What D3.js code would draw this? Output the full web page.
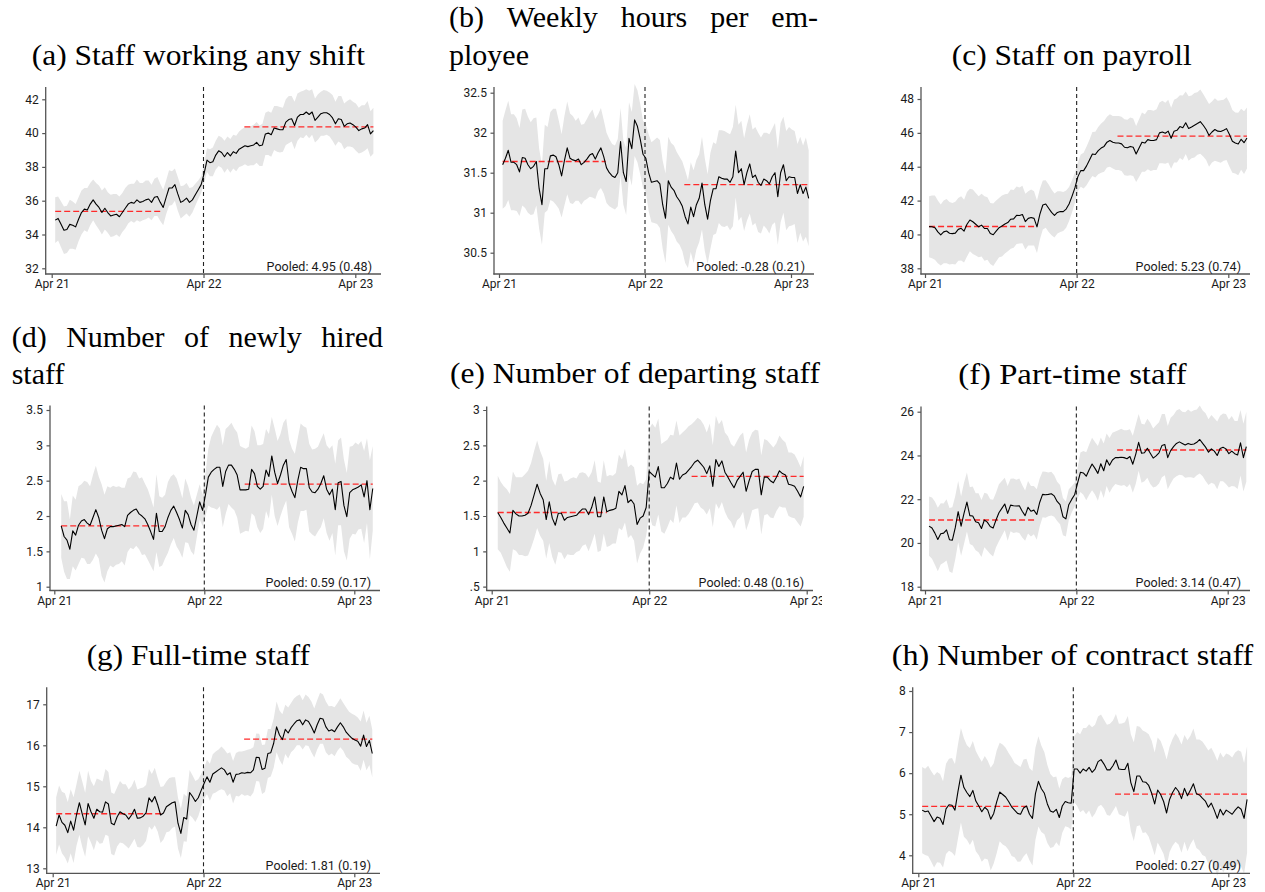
<!DOCTYPE html>
<html><head><meta charset="utf-8">
<script src="https://cdn.jsdelivr.net/npm/d3@7"></script>
<style>
body{margin:0;background:#fff;}
svg{display:block;background:#fff;}
.title{font-family:"Liberation Serif","Times New Roman",serif;font-size:30px;fill:#000;}
.lbl{font-family:Roboto,"Liberation Sans",sans-serif;font-size:12px;fill:#1a1a1a;}
</style></head><body>
<svg id="chart" width="1265" height="892"></svg>
<script>
// ---------------- DATA ----------------
const xTickWeeks = [0, 52, 104];
const xTickLabels = ["Apr 21", "Apr 22", "Apr 23"];
const breakWeek = 52;
const preEndWeek = 38;
const postStartWeek = 66;

const titles = [
  ["(a) Staff working any shift"],
  ["(b) Weekly hours per em-", "ployee"],
  ["(c) Staff on payroll"],
  ["(d) Number of newly hired", "staff"],
  ["(e) Number of departing staff"],
  ["(f) Part-time staff"],
  ["(g) Full-time staff"],
  ["(h) Number of contract staff"]
];
const pooledLabels = ["Pooled: 4.95 (0.48)", "Pooled: -0.28 (0.21)", "Pooled: 5.23 (0.74)", "Pooled: 0.59 (0.17)",
  "Pooled: 0.48 (0.16)", "Pooled: 3.14 (0.47)", "Pooled: 1.81 (0.19)", "Pooled: 0.27 (0.49)"];
const preMeans = [35.37, 31.64, 40.47, 1.86, 1.55, 21.05, 14.33, 5.19];
const postMeans = [40.37, 31.35, 45.81, 2.45, 2.06, 24.25, 16.15, 5.49];
const startWeeks = [1.2, 1.3, 1.4, 2.4, 2.0, 1.4, 1.2, 1.3];

const yTicksA = [32, 34, 36, 38, 40, 42];
const yTicksB = [30.5, 31, 31.5, 32, 32.5];
const yTicksC = [38, 40, 42, 44, 46, 48];
const yTicksD = [1, 1.5, 2, 2.5, 3, 3.5];
const yTicksE = [0.5, 1, 1.5, 2, 2.5, 3];
const yTicksF = [18, 20, 22, 24, 26];
const yTicksG = [13, 14, 15, 16, 17];
const yTicksH = [4, 5, 6, 7, 8];
const yLabelsA = ["32", "34", "36", "38", "40", "42"];
const yLabelsB = ["30.5", "31", "31.5", "32", "32.5"];
const yLabelsC = ["38", "40", "42", "44", "46", "48"];
const yLabelsD = ["1", "1.5", "2", "2.5", "3", "3.5"];
const yLabelsE = [".5", "1", "1.5", "2", "2.5", "3"];
const yLabelsF = ["18", "20", "22", "24", "26"];
const yLabelsG = ["13", "14", "15", "16", "17"];
const yLabelsH = ["4", "5", "6", "7", "8"];

const seriesA = [34.85,34.95,34.6,34.25,34.3,34.6,34.55,34.45,34.9,35.3,
35.5,35.45,35.8,36.05,35.8,35.6,35.3,35.55,35.3,35.1,
35.15,35.2,35.05,35.3,35.55,35.8,35.9,35.85,36.05,35.9,
35.95,36.05,36.1,35.9,36.2,36.25,35.9,35.6,36.2,36.75,
36.75,36.95,36.4,35.9,36.0,36.15,35.9,36.05,36.35,36.65,
36.95,37.6,38.4,38.25,38.3,38.7,38.95,38.85,38.6,38.85,
38.65,38.9,38.8,39.05,39.15,39.25,39.2,39.25,39.3,39.45,
39.25,39.3,39.95,40.0,39.9,40.3,40.25,40.2,40.2,40.65,
40.8,40.85,40.45,40.95,41.1,41.1,41.25,41.1,41.25,40.75,
40.95,41.15,41.2,41.2,41.1,40.9,40.55,40.85,40.8,40.4,
40.55,40.6,40.5,40.35,40.15,40.25,40.3,40.5,39.95,40.15];
const ciA = [1.35,1.3,1.35,1.4,1.4,1.45,1.4,1.35,1.3,1.3,
1.25,1.3,1.25,1.2,1.25,1.3,1.3,1.25,1.2,1.25,
1.25,1.2,1.2,1.15,1.2,1.15,1.1,1.15,1.2,1.15,
1.1,1.15,1.1,1.05,1.1,1.15,1.1,1.05,1.0,1.05,
1.0,0.95,1.0,0.95,0.9,0.9,0.85,0.75,0.65,0.55,
0.5,0.55,0.7,0.8,0.85,0.85,0.9,0.9,0.95,0.95,
1.0,1.0,1.05,1.05,1.1,1.1,1.15,1.15,1.2,1.2,
1.2,1.25,1.25,1.3,1.3,1.3,1.35,1.35,1.3,1.35,
1.4,1.35,1.4,1.4,1.35,1.4,1.35,1.4,1.35,1.3,
1.35,1.3,1.35,1.3,1.3,1.35,1.3,1.35,1.4,1.35,
1.35,1.4,1.35,1.4,1.35,1.4,1.35,1.4,1.35,1.35];

const seriesB = [31.6,31.68,31.78,31.63,31.63,31.6,31.51,31.69,31.68,31.6,
31.55,31.58,31.64,31.3,31.1,31.55,31.55,31.71,31.72,31.7,
31.6,31.46,31.65,31.81,31.68,31.66,31.65,31.67,31.6,31.63,
31.67,31.72,31.74,31.67,31.75,31.81,31.7,31.56,31.5,31.46,
31.44,31.5,31.89,31.5,31.39,31.93,31.8,32.16,32.08,31.92,
31.73,31.68,31.5,31.38,31.39,31.4,31.36,31.1,30.93,31.4,
31.32,31.28,31.2,31.15,31.08,30.95,30.86,31.07,30.95,31.1,
31.18,31.37,31.1,30.92,31.15,31.3,31.3,31.45,31.43,31.42,
31.42,31.38,31.45,31.77,31.5,31.55,31.35,31.5,31.61,31.44,
31.47,31.38,31.34,31.42,31.4,31.36,31.45,31.5,31.2,31.5,
31.6,31.4,31.45,31.44,31.44,31.24,31.35,31.24,31.32,31.18];
const ciB = [0.55,0.6,0.62,0.6,0.6,0.58,0.55,0.6,0.62,0.6,
0.58,0.6,0.55,0.5,0.5,0.55,0.52,0.55,0.58,0.6,
0.55,0.52,0.56,0.58,0.56,0.55,0.5,0.52,0.5,0.48,
0.5,0.52,0.55,0.5,0.48,0.5,0.46,0.44,0.42,0.4,
0.4,0.42,0.42,0.4,0.42,0.45,0.46,0.45,0.45,0.44,
0.42,0.42,0.48,0.5,0.52,0.54,0.55,0.55,0.56,0.55,
0.55,0.56,0.56,0.55,0.56,0.58,0.55,0.56,0.58,0.56,
0.55,0.58,0.58,0.56,0.6,0.58,0.56,0.58,0.6,0.6,
0.58,0.6,0.62,0.58,0.6,0.6,0.58,0.6,0.62,0.6,
0.6,0.62,0.6,0.58,0.6,0.62,0.6,0.62,0.6,0.62,
0.6,0.62,0.62,0.6,0.58,0.62,0.6,0.6,0.62,0.6];

const seriesC = [40.46,40.45,40.4,40.15,39.97,40.15,40.2,40.07,40.05,40.08,
40.3,40.36,40.2,40.6,40.85,40.75,40.6,40.45,40.55,40.35,
40.35,40.05,39.98,40.2,40.4,40.5,40.62,40.7,40.9,40.92,
41.13,41.12,41.18,40.76,40.95,41.0,40.95,40.45,41.2,41.74,
41.8,41.55,41.3,41.12,41.3,41.35,41.35,41.5,41.8,42.25,
42.75,43.4,43.77,43.77,44.05,44.4,44.75,44.72,44.95,45.1,
45.2,45.45,45.55,45.45,45.4,45.4,45.35,45.15,45.12,45.2,
45.15,44.75,45.1,45.45,45.4,45.6,45.55,45.55,45.6,46.0,
46.05,45.98,46.1,45.68,46.1,46.15,46.37,46.3,46.6,46.26,
46.35,46.45,46.55,46.66,46.45,46.2,45.85,46.05,46.2,46.1,
46.08,46.15,46.25,45.9,45.5,45.4,45.34,45.62,45.42,45.7];
const ciC = [1.8,1.85,1.9,1.85,1.8,1.85,1.9,1.85,1.8,1.85,
1.85,1.9,1.85,1.9,1.85,1.9,1.85,1.8,1.85,1.9,
1.85,1.8,1.85,1.8,1.75,1.8,1.75,1.7,1.75,1.7,
1.7,1.65,1.7,1.65,1.6,1.65,1.6,1.55,1.5,1.45,
1.4,1.4,1.35,1.3,1.25,1.2,1.15,1.1,1.0,0.95,
0.9,0.85,0.95,1.05,1.15,1.2,1.3,1.35,1.4,1.45,
1.5,1.5,1.55,1.55,1.6,1.6,1.6,1.65,1.65,1.7,
1.7,1.65,1.7,1.75,1.7,1.75,1.8,1.75,1.8,1.8,
1.85,1.8,1.85,1.8,1.85,1.9,1.85,1.9,1.85,1.9,
1.85,1.9,1.85,1.9,1.85,1.8,1.85,1.8,1.85,1.8,
1.85,1.8,1.85,1.9,1.85,1.8,1.85,1.8,1.85,1.8];

const seriesD = [1.86,1.71,1.66,1.53,1.79,1.73,1.87,1.93,1.95,1.9,
1.87,1.98,2.09,1.98,1.8,1.68,1.82,1.85,1.85,1.86,
1.87,1.88,1.85,2.01,2.05,2.08,2.1,2.03,2.0,1.96,
1.88,1.78,1.67,2.04,1.78,1.78,1.85,1.98,2.08,2.14,
2.05,1.95,1.83,2.08,2.02,1.88,1.8,2.0,2.2,2.08,
2.3,2.55,2.62,2.66,2.69,2.69,2.42,2.63,2.72,2.72,
2.66,2.58,2.37,2.37,2.37,2.38,2.66,2.6,2.42,2.38,
2.42,2.65,2.56,2.85,2.62,2.46,2.58,2.72,2.8,2.46,
2.35,2.26,2.5,2.69,2.67,2.67,2.4,2.34,2.33,2.38,
2.46,2.57,2.38,2.3,2.38,2.09,2.47,2.49,2.15,1.99,
2.33,2.37,2.39,2.41,2.44,2.27,2.5,2.09,2.39];
const ciD = [0.45,0.5,0.55,0.42,0.5,0.5,0.55,0.52,0.55,0.58,
0.55,0.6,0.62,0.58,0.65,0.62,0.6,0.55,0.58,0.55,
0.55,0.52,0.55,0.52,0.5,0.55,0.52,0.5,0.55,0.5,
0.5,0.48,0.45,0.55,0.5,0.48,0.45,0.5,0.48,0.45,
0.48,0.45,0.42,0.45,0.4,0.38,0.35,0.3,0.25,0.22,
0.3,0.4,0.5,0.55,0.6,0.55,0.58,0.6,0.55,0.6,
0.58,0.6,0.62,0.6,0.58,0.6,0.62,0.6,0.58,0.62,
0.6,0.58,0.6,0.55,0.62,0.6,0.58,0.6,0.58,0.62,
0.6,0.62,0.6,0.62,0.6,0.58,0.62,0.6,0.62,0.6,
0.62,0.6,0.62,0.65,0.62,0.65,0.6,0.62,0.65,0.62,
0.65,0.62,0.65,0.6,0.62,0.65,0.6,0.7,0.6];

const seriesE = [1.55,1.48,1.4,1.33,1.26,1.58,1.53,1.5,1.5,1.51,
1.54,1.65,1.8,1.95,1.82,1.73,1.45,1.7,1.47,1.37,
1.54,1.54,1.44,1.48,1.49,1.5,1.51,1.56,1.6,1.6,
1.52,1.62,1.77,1.49,1.49,1.77,1.56,1.58,1.59,1.61,
1.85,1.8,1.93,1.69,1.73,1.67,1.38,1.47,1.5,1.62,
2.13,2.09,2.05,2.2,1.9,1.9,1.96,2.05,2.02,2.25,
2.02,2.08,2.1,2.15,2.2,2.26,2.29,2.24,2.19,2.1,
2.21,1.92,2.3,2.2,2.28,2.12,2.05,1.97,1.9,2.0,
2.06,2.12,1.85,2.0,2.13,2.16,2.16,1.8,2.05,2.05,
2.0,1.97,2.05,2.14,2.1,2.08,1.95,1.94,1.92,1.85,
1.77,1.92];
const ciE = [0.52,0.5,0.52,0.55,0.55,0.55,0.52,0.55,0.55,0.58,
0.6,0.6,0.62,0.62,0.6,0.58,0.55,0.58,0.55,0.56,
0.55,0.56,0.55,0.52,0.54,0.55,0.52,0.55,0.52,0.5,
0.52,0.5,0.52,0.5,0.48,0.52,0.5,0.5,0.48,0.5,
0.52,0.5,0.52,0.5,0.5,0.52,0.55,0.5,0.45,0.4,
0.6,0.72,0.7,0.68,0.62,0.65,0.62,0.6,0.62,0.6,
0.62,0.6,0.62,0.62,0.6,0.58,0.6,0.62,0.6,0.58,
0.6,0.58,0.62,0.6,0.58,0.56,0.58,0.55,0.58,0.56,
0.58,0.56,0.55,0.58,0.55,0.56,0.55,0.56,0.54,0.52,
0.52,0.5,0.48,0.5,0.48,0.46,0.45,0.46,0.45,0.44,
0.42,0.43];

const seriesF = [20.77,20.68,20.45,20.16,20.42,20.45,20.6,20.15,20.13,20.7,
21.43,20.77,21.35,21.87,21.25,21.23,20.97,20.92,20.66,21.05,
20.95,20.75,20.68,21.05,21.38,21.58,21.78,21.35,21.73,21.7,
21.69,21.7,21.45,21.25,21.63,21.45,21.5,21.3,21.85,22.22,
22.2,22.22,22.25,22.15,21.9,21.75,21.2,21.1,21.75,21.99,
22.2,22.72,23.23,23.2,23.05,23.35,23.61,23.41,23.18,23.62,
23.3,23.8,23.55,23.79,23.9,23.9,23.92,23.9,23.85,23.95,
23.6,24.05,24.6,24.1,24.12,24.33,24.1,23.88,23.98,24.12,
24.45,24.5,23.9,24.22,24.4,24.55,24.62,24.55,24.48,24.55,
24.5,24.52,24.6,24.73,24.55,24.38,24.15,24.3,24.2,24.0,
24.32,24.37,24.3,24.08,24.2,24.08,24.02,24.58,23.9,24.4];
const ciF = [1.35,1.4,1.45,1.45,1.4,1.35,1.4,1.45,1.5,1.45,
1.4,1.35,1.4,1.35,1.3,1.35,1.3,1.35,1.3,1.25,
1.3,1.25,1.3,1.25,1.3,1.25,1.2,1.25,1.2,1.25,
1.2,1.25,1.2,1.15,1.2,1.15,1.1,1.15,1.1,1.05,
1.05,1.0,1.0,0.95,0.9,0.9,0.85,0.8,0.7,0.6,
0.55,0.7,0.9,1.0,1.1,1.15,1.2,1.2,1.25,1.2,
1.25,1.2,1.25,1.25,1.2,1.25,1.3,1.25,1.3,1.25,
1.3,1.35,1.3,1.35,1.3,1.35,1.4,1.35,1.4,1.4,
1.45,1.4,1.45,1.5,1.45,1.5,1.5,1.45,1.5,1.55,
1.5,1.55,1.5,1.55,1.5,1.55,1.5,1.55,1.5,1.55,
1.5,1.55,1.6,1.55,1.6,1.5,1.55,1.5,1.55,1.6];

const seriesG = [14.03,14.3,14.12,14.05,13.87,14.15,13.93,14.3,14.6,14.32,
14.06,14.58,14.38,14.22,14.44,14.38,14.37,14.62,14.57,14.1,
14.06,14.25,14.38,14.33,14.3,14.2,14.3,14.44,14.22,14.23,
14.27,14.35,14.72,14.62,14.75,14.55,14.3,14.35,14.5,14.55,
14.6,14.62,14.1,13.85,14.24,14.2,14.85,14.75,14.63,14.72,
14.9,15.07,15.23,15.1,15.3,15.35,15.4,15.45,15.4,15.28,
15.33,15.1,15.29,15.3,15.33,15.32,15.34,15.33,15.4,15.71,
15.7,15.41,15.44,15.8,15.82,16.05,16.45,16.25,16.14,16.39,
16.3,16.43,16.52,16.6,16.62,16.5,16.62,16.58,16.45,16.3,
16.5,16.66,16.64,16.45,16.35,16.38,16.33,16.45,16.55,16.45,
16.32,16.24,16.17,16.13,16.1,15.98,16.25,15.97,16.12,15.8];
const ciG = [0.7,0.72,0.75,0.78,0.75,0.78,0.8,0.75,0.78,0.8,
0.78,0.8,0.75,0.78,0.75,0.78,0.75,0.8,0.78,0.75,
0.75,0.72,0.75,0.72,0.75,0.72,0.7,0.72,0.7,0.72,
0.7,0.68,0.7,0.68,0.7,0.65,0.68,0.65,0.62,0.65,
0.62,0.6,0.62,0.6,0.58,0.55,0.55,0.52,0.5,0.45,
0.4,0.38,0.42,0.45,0.48,0.5,0.5,0.52,0.5,0.52,
0.5,0.52,0.52,0.55,0.52,0.55,0.55,0.58,0.55,0.58,
0.58,0.6,0.58,0.6,0.58,0.6,0.62,0.6,0.62,0.6,
0.62,0.6,0.62,0.6,0.62,0.6,0.62,0.6,0.62,0.6,
0.6,0.62,0.6,0.62,0.6,0.58,0.6,0.58,0.6,0.58,
0.6,0.58,0.6,0.6,0.58,0.6,0.6,0.58,0.6,0.58];

const seriesH = [5.1,5.06,5.08,4.95,4.82,4.93,4.9,4.75,5.13,5.23,
5.22,5.1,5.55,5.95,5.65,5.53,5.43,5.58,5.32,5.2,
5.06,5.17,5.1,4.88,5.02,5.3,5.54,5.48,5.42,5.31,
5.18,5.1,5.02,5.0,5.15,5.2,5.0,4.9,5.5,5.8,
5.62,5.51,5.25,5.08,5.05,5.12,4.92,5.2,5.31,5.28,
5.27,6.1,6.1,6.0,6.1,6.05,6.14,6.02,6.1,6.28,
6.33,6.22,6.08,6.08,6.18,6.32,6.1,6.09,6.09,6.24,
5.77,5.55,5.93,5.93,5.79,5.78,5.7,5.51,5.25,5.59,
5.48,5.31,5.03,5.36,5.53,5.65,5.56,5.38,5.63,5.45,
5.59,5.74,5.5,5.47,5.39,5.32,5.17,5.27,5.1,4.9,
5.12,4.98,5.1,5.05,5.0,5.1,5.18,5.12,4.9,5.36];
const ciH = [1.05,1.05,1.1,1.1,1.12,1.1,1.08,1.05,1.1,1.12,
1.15,1.12,1.15,1.15,1.2,1.15,1.18,1.2,1.22,1.2,
1.22,1.25,1.2,1.25,1.22,1.25,1.2,1.22,1.2,1.18,
1.2,1.15,1.18,1.15,1.18,1.15,1.12,1.15,1.12,1.1,
1.05,1.0,0.95,0.9,0.85,0.8,0.7,0.65,0.6,0.6,
0.65,0.8,0.9,0.95,1.0,1.05,1.05,1.1,1.08,1.1,
1.1,1.08,1.1,1.12,1.1,1.12,1.1,1.12,1.15,1.15,
1.18,1.2,1.22,1.2,1.25,1.22,1.25,1.28,1.25,1.28,
1.3,1.28,1.3,1.28,1.3,1.32,1.3,1.32,1.3,1.35,
1.32,1.35,1.32,1.35,1.38,1.35,1.38,1.35,1.38,1.4,
1.38,1.4,1.38,1.4,1.38,1.4,1.38,1.4,1.35,1.3];

// ---------------- LAYOUT (pixels) ----------------
const layouts = [
  {axL:45.7, x0:51.7, x2:355.3, axR:381, top:87, bottom:274, yPx:[268.3,99.3],
   tl:{left:31.7, right:365, base:[65]}},
  {axL:494, x0:499, x2:791, axR:814, top:87, bottom:274, yPx:[252.7,92.7],
   tl:{left:449, right:818, base:[26.7,65]}},
  {axL:921, x0:925, x2:1228.3, axR:1250, top:87, bottom:274, yPx:[268.3,99],
   tl:{left:951.7, right:1191.7, base:[65]}},
  {axL:50, x0:54.3, x2:354.3, axR:380, top:405.5, bottom:590.5, yPx:[586.7,410],
   tl:{left:11.7, right:383, base:[346.7,384]}},
  {axL:486.7, x0:491.7, x2:806.7, axR:813, top:406.5, bottom:590.5, yPx:[586.7,410], clipR:822,
   tl:{left:450, right:820, base:[383.3]}},
  {axL:921, x0:925, x2:1227.7, axR:1250, top:406.5, bottom:590.5, yPx:[586.7,411.7],
   tl:{left:958.3, right:1186.7, base:[384]}},
  {axL:46.7, x0:52.7, x2:354.3, axR:380, top:687.3, bottom:873.3, yPx:[868.3,704.3],
   tl:{left:86.7, right:310, base:[665]}},
  {axL:912.7, x0:918.3, x2:1228.3, axR:1250, top:687.3, bottom:873.3, yPx:[855.3,691],
   tl:{left:891.7, right:1253.3, base:[665]}}
];

const panels = [
  {values:seriesA, ci:ciA, yTicks:yTicksA, yLabels:yLabelsA},
  {values:seriesB, ci:ciB, yTicks:yTicksB, yLabels:yLabelsB},
  {values:seriesC, ci:ciC, yTicks:yTicksC, yLabels:yLabelsC},
  {values:seriesD, ci:ciD, yTicks:yTicksD, yLabels:yLabelsD},
  {values:seriesE, ci:ciE, yTicks:yTicksE, yLabels:yLabelsE},
  {values:seriesF, ci:ciF, yTicks:yTicksF, yLabels:yLabelsF},
  {values:seriesG, ci:ciG, yTicks:yTicksG, yLabels:yLabelsG},
  {values:seriesH, ci:ciH, yTicks:yTicksH, yLabels:yLabelsH}
];

// ---------------- DRAW ----------------
const svg = d3.select("#chart");
svg.append("rect").attr("width",1265).attr("height",892).attr("fill","#fff");
const defs = svg.append("defs");
const axisColor = "#555";

function drawTitle(lines, T) {
  lines.forEach((txt, li) => {
    const base = T.base[li];
    if (lines.length > 1 && li === 0) {
      const words = txt.split(" ");
      const nodes = words.map(w => svg.append("text").attr("class","title").attr("y",base).text(w));
      const widths = nodes.map(n => n.node().getComputedTextLength());
      const gap = (T.right - T.left - d3.sum(widths)) / (words.length - 1);
      let cx = T.left;
      nodes.forEach((n,j) => { n.attr("x", cx); cx += widths[j] + gap; });
    } else if (lines.length > 1) {
      svg.append("text").attr("class","title").attr("x",T.left).attr("y",base).text(txt);
    } else {
      svg.append("text").attr("class","title").attr("x",T.left).attr("y",base)
        .attr("textLength", T.right - T.left).attr("lengthAdjust","spacingAndGlyphs").text(txt);
    }
  });
}

panels.forEach((p, i) => {
  const L = layouts[i];
  drawTitle(titles[i], L.tl);
  const g = svg.append("g");
  if (L.clipR) {
    const id = "clip" + i;
    defs.append("clipPath").attr("id", id).append("rect")
      .attr("x", L.axL - 60).attr("y", L.top - 20).attr("width", L.clipR - L.axL + 60).attr("height", L.bottom - L.top + 60);
    g.attr("clip-path", `url(#${id})`);
  }
  const x = d3.scaleLinear().domain([xTickWeeks[0], xTickWeeks[xTickWeeks.length-1]]).range([L.x0, L.x2]);
  const yt = p.yTicks;
  const y = d3.scaleLinear().domain([yt[0], yt[yt.length-1]]).range(L.yPx);
  const start = startWeeks[i];
  const pts = p.values.map((v,k) => ({w: start + k, v: v, h: p.ci[k]}));
  const lastW = pts[pts.length-1].w;

  // confidence band
  g.append("path").datum(pts)
    .attr("d", d3.area().x(d => x(d.w)).y0(d => y(d.v - d.h)).y1(d => y(d.v + d.h)))
    .attr("fill", "#e5e5e5");

  // vertical break line
  g.append("line").attr("x1", x(breakWeek)).attr("x2", x(breakWeek))
    .attr("y1", L.top).attr("y2", L.bottom)
    .attr("stroke", "#222").attr("stroke-width", 1.1).attr("stroke-dasharray", "4,3");

  // pooled means
  const means = [
    {a: start, b: preEndWeek, v: preMeans[i]},
    {a: postStartWeek, b: lastW, v: postMeans[i]}
  ];
  g.selectAll(".mean").data(means).enter().append("line")
    .attr("x1", d => x(d.a)).attr("x2", d => x(d.b))
    .attr("y1", d => y(d.v)).attr("y2", d => y(d.v))
    .attr("stroke", "#ff2a2a").attr("stroke-width", 1.3).attr("stroke-dasharray", "6,3");

  // main line
  g.append("path").datum(pts)
    .attr("d", d3.line().x(d => x(d.w)).y(d => y(d.v)))
    .attr("fill", "none").attr("stroke", "#000").attr("stroke-width", 1.1).attr("stroke-linejoin","round");

  // axes
  const ya = g.append("g").attr("transform", `translate(${L.axL},0)`)
    .call(d3.axisLeft(y).tickValues(yt).tickFormat(d => p.yLabels[yt.indexOf(d)]).tickSize(3.5).tickPadding(3.5));
  ya.select(".domain").remove();
  ya.selectAll("line").attr("stroke", axisColor).attr("stroke-width", 1.2);
  ya.selectAll("text").attr("class","lbl").attr("fill", "#1a1a1a");
  ya.attr("font-family", null).attr("font-size", null);

  const xa = g.append("g").attr("transform", `translate(0,${L.bottom})`)
    .call(d3.axisBottom(x).tickValues(xTickWeeks).tickFormat(d => xTickLabels[xTickWeeks.indexOf(d)]).tickSize(4).tickPadding(1.5));
  xa.select(".domain").remove();
  xa.selectAll("line").attr("stroke", axisColor).attr("stroke-width", 1.2);
  xa.selectAll("text").attr("class","lbl").attr("fill", "#1a1a1a");
  xa.attr("font-family", null).attr("font-size", null);

  g.append("line").attr("x1", L.axL).attr("x2", L.axL).attr("y1", L.top).attr("y2", L.bottom + 0.6)
    .attr("stroke", axisColor).attr("stroke-width", 1.3);
  g.append("line").attr("x1", L.axL - 0.6).attr("x2", L.axR).attr("y1", L.bottom).attr("y2", L.bottom)
    .attr("stroke", axisColor).attr("stroke-width", 1.3);

  // pooled estimate text
  g.append("text").attr("class","lbl").style("font-size","12.5px")
    .attr("x", L.axR - 9).attr("y", L.bottom - 3.5).attr("text-anchor","end")
    .text(pooledLabels[i]);
});
</script>
</body></html>
